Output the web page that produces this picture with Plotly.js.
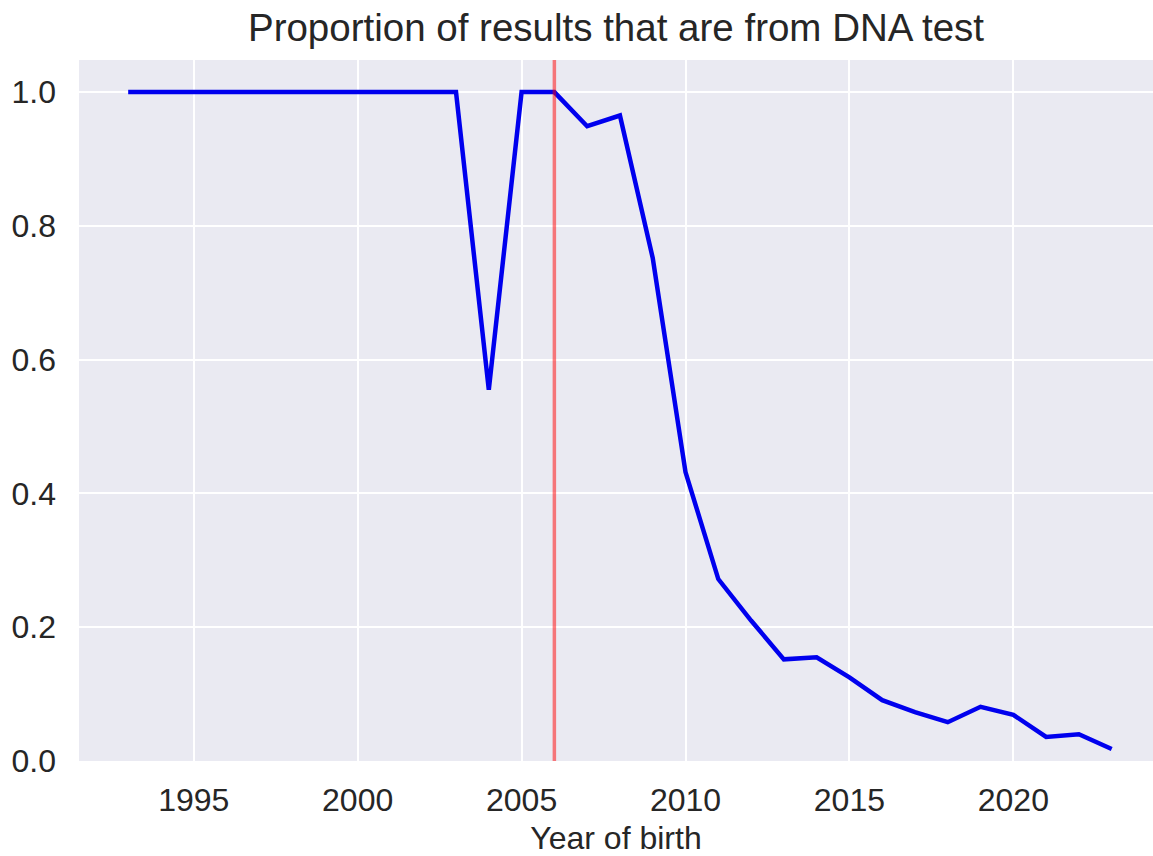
<!DOCTYPE html>
<html>
<head>
<meta charset="utf-8">
<script src="https://cdn.plot.ly/plotly-3.0.1.min.js"></script>
<style>html,body{margin:0;padding:0;background:#fff;}#chart{width:1153px;height:856px;}</style>
</head>
<body>
<div id="chart"></div>
<script>
const years = [1993,1994,1995,1996,1997,1998,1999,2000,2001,2002,2003,2004,2005,2006,2007,2008,2009,2010,2011,2012,2013,2014,2015,2016,2017,2018,2019,2020,2021,2022,2023];
const proportion = [1.0,1.0,1.0,1.0,1.0,1.0,1.0,1.0,1.0,1.0,1.0,0.555,1.0,1.0,0.949,0.965,0.752,0.432,0.272,0.210,0.152,0.155,0.125,0.091,0.073,0.058,0.081,0.069,0.036,0.040,0.018];
const markerYear = 2006;
const xTicks = [1995,2000,2005,2010,2015,2020];
const yTicks = [0.0,0.2,0.4,0.6,0.8,1.0];

const fontFam = 'Liberation Sans, Arial, sans-serif';
const data = [{
  x: years, y: proportion, type: 'scatter', mode: 'lines',
  line: {color: '#0000ee', width: 4.5}, hoverinfo: 'skip'
}];
const layout = {
  width: 1153, height: 856,
  margin: {l: 79, r: 0, t: 60, b: 95},
  paper_bgcolor: '#ffffff', plot_bgcolor: '#EAEAF2',
  showlegend: false,
  title: {text: 'Proportion of results that are from DNA test', font: {family: fontFam, size: 38.5, color: '#262626'}, x: 0.5, xanchor: 'center', y: 0.968, yanchor: 'middle', xref: 'paper'},
  xaxis: {
    range: [1991.5, 2024.26], tickvals: xTicks, ticktext: xTicks.map(String),
    showgrid: true, gridcolor: '#ffffff', gridwidth: 2, zeroline: false, showline: false,
    ticks: '', ticklabelstandoff: 17,
    tickfont: {family: fontFam, size: 32, color: '#262626'},
    title: {text: 'Year of birth', font: {family: fontFam, size: 32, color: '#262626'}, standoff: 12}
  },
  yaxis: {
    range: [0, 1.048], tickvals: yTicks, ticktext: yTicks.map(v => v.toFixed(1)),
    showgrid: true, gridcolor: '#ffffff', gridwidth: 2, zeroline: false, showline: false,
    ticks: '', ticklabelstandoff: 22,
    tickfont: {family: fontFam, size: 32, color: '#262626'}
  },
  shapes: [{
    type: 'line', xref: 'x', yref: 'paper', x0: markerYear, x1: markerYear, y0: 0, y1: 1,
    line: {color: 'rgba(255,0,0,0.5)', width: 3.5}, layer: 'above'
  }]
};
Plotly.newPlot('chart', data, layout, {displayModeBar: false, staticPlot: true});
</script>
</body>
</html>
